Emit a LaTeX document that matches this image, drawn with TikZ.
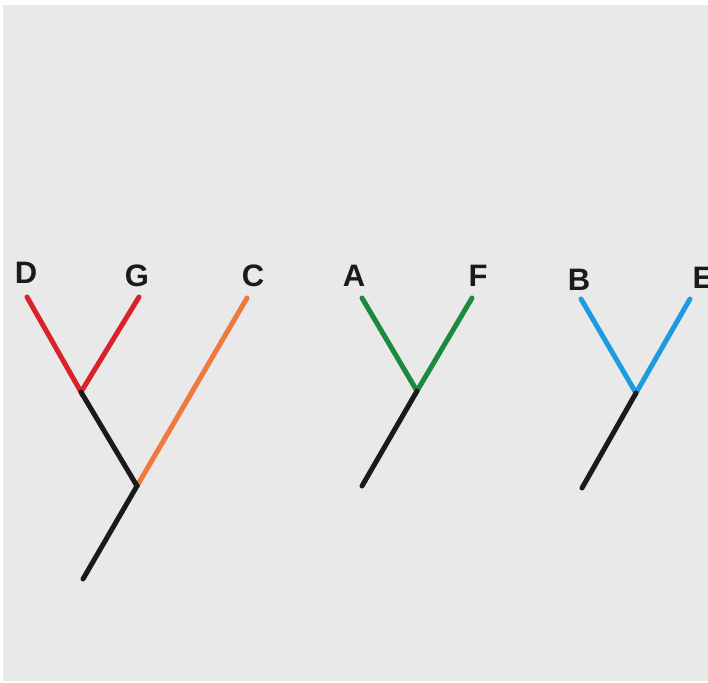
\documentclass[tikz,border=0pt]{standalone}
\usepackage{fontspec}
\setmainfont{Liberation Sans}
\definecolor{bgc}{HTML}{E9E9E9}
\definecolor{redc}{HTML}{D8232A}
\definecolor{orangec}{HTML}{EE7A40}
\definecolor{greenc}{HTML}{1B8A3E}
\definecolor{bluec}{HTML}{1E9BE0}
\definecolor{blackc}{HTML}{1A1A1A}
\begin{document}
\begin{tikzpicture}[x=1pt,y=-1pt,
  branch/.style={line width=5pt,line cap=round},
  lbl/.style={font=\bfseries\fontsize{31}{31}\selectfont,text=blackc,inner sep=0pt}]
\useasboundingbox (0,0) rectangle (708,682);
\fill[white] (0,0) rectangle (708,682);
\fill[bgc] (3,5) rectangle (708,681);
\clip (0,0) rectangle (708,682);
% tree 1
\coordinate (d) at (27,297);
\coordinate (g) at (139,297);
\coordinate (dg) at (81,392);
\coordinate (c) at (247,298);
\coordinate (r1) at (137,486);
\coordinate (b1) at (83,579);
\draw[branch,redc] (d) -- (dg) -- (g);
\draw[branch,orangec] (r1) -- (c);
\draw[branch,blackc] (dg) -- (r1) -- (b1);
\node[lbl] (ld) at (26,273) {D};
\node[lbl] (lg) at (137,276) {G};
\node[lbl] (lc) at (253,276) {C};
% tree 2
\coordinate (a) at (362,298);
\coordinate (f) at (472,298);
\coordinate (af) at (417,391);
\coordinate (b2) at (362,486);
\draw[branch,greenc] (a) -- (af) -- (f);
\draw[branch,blackc] (af) -- (b2);
\node[lbl] (la) at (354,276) {A};
\node[lbl] (lf) at (478,276) {F};
% tree 3
\coordinate (bb) at (581,299);
\coordinate (e) at (690,299);
\coordinate (be) at (636,393);
\coordinate (b3) at (582,488);
\draw[branch,bluec] (bb) -- (be) -- (e);
\draw[branch,blackc] (be) -- (b3);
\node[lbl] (lb) at (579,280) {B};
\node[lbl] (le) at (703,278) {E};
\end{tikzpicture}
\end{document}
